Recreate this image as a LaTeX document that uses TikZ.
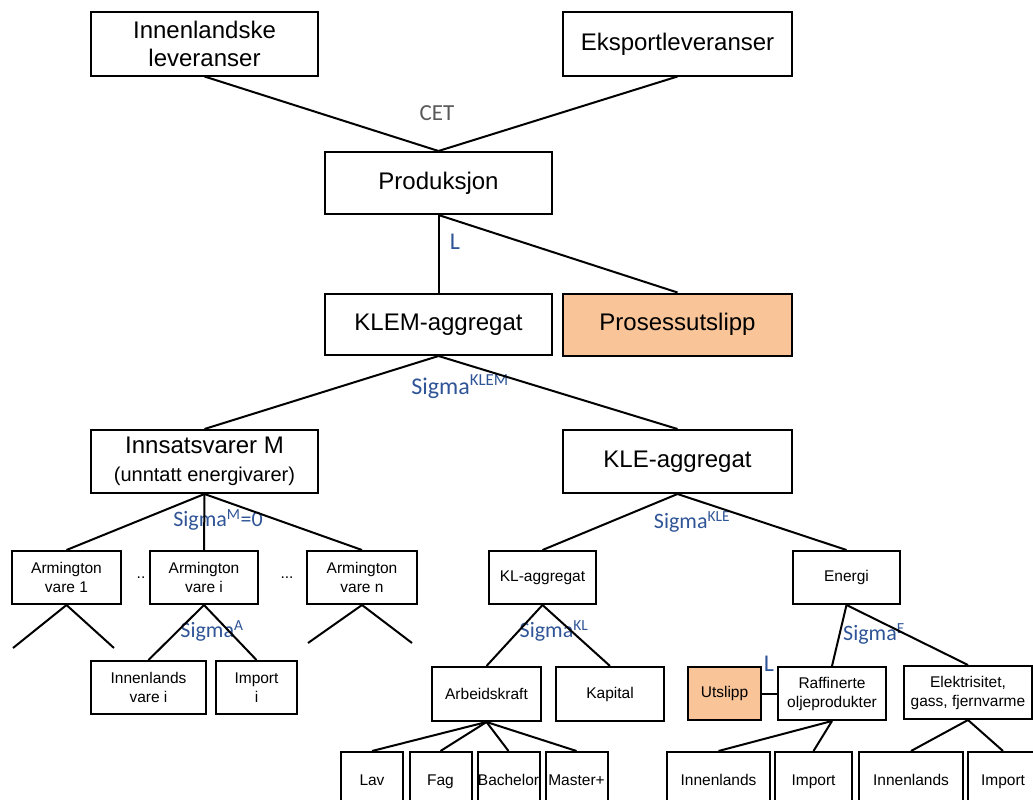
\documentclass[tikz,border=0pt]{standalone}
\usepackage{fontspec}
\setmainfont{Liberation Sans}
\newfontfamily\sigmafont{Carlito}
\usetikzlibrary{positioning}
\definecolor{sigmablue}{RGB}{47,85,151}
\definecolor{cetgray}{RGB}{89,89,89}
\definecolor{lightorange}{RGB}{248,196,152}

\begin{document}
\begin{tikzpicture}[
    x=1pt, y=-1pt,
    box/.style={
        draw=black,
        line width=2pt,
        fill=white,
        align=center,
        inner sep=2pt
    },
    bigbox/.style={
        box,
        minimum width=227pt,
        minimum height=63pt,
        font=\fontsize{24}{28}\selectfont
    },
    smallbox/.style={
        box,
        minimum width=108pt,
        minimum height=53pt,
        font=\fontsize{15.5}{19}\selectfont
    },
    leafbox/.style={
        smallbox,
        minimum height=58pt,
        text height=11.5pt,
        text depth=3.5pt
    },
    orangefill/.style={fill=lightorange},
    link/.style={line width=2pt},
    sigma/.style={
        text=sigmablue,
        inner sep=0pt,
        font=\sigmafont\fontsize{22}{24}\selectfont
    },
    letter/.style={
        sigma,
        font=\sigmafont\fontsize{24}{26}\selectfont
    }
]
\clip (0,0) rectangle (1033,800);

% top levels
\node[bigbox] (innenlandske) at (204.5,44) {Innenlandske\\leveranser};
\node[bigbox, minimum width=229pt] (eksport) at (677.5,44) {Eksportleveranser};
\node[bigbox, minimum height=62pt] (produksjon) at (438.5,183) {Produksjon};
\node[bigbox, minimum height=61pt] (klem) at (438.5,324.5) {KLEM-aggregat};
\node[bigbox, orangefill, minimum width=229pt, minimum height=62pt, right=9pt of klem] (prosess) {Prosessutslipp};
\node[bigbox] (innsats) at (204.5,461.5) {Innsatsvarer M\\{\fontsize{20}{24}\selectfont (unntatt energivarer)}};
\node[bigbox, minimum width=229pt] (kle) at (677.5,461.5) {KLE-aggregat};

% Armington side
\node[smallbox, minimum width=109pt] (arm1) at (66.5,577.5) {Armington\\vare 1};
\node[smallbox] (armi) at (204,577.5) {Armington\\vare i};
\node[smallbox, minimum width=110pt] (armn) at (362,577.5) {Armington\\vare n};
\node[font=\fontsize{15.5}{19}\selectfont] (dotsa) at (141,578) {..};
\node[font=\fontsize{15.5}{19}\selectfont] (dotsb) at (287,578) {...};
\node[smallbox, minimum width=115pt] (innvi) at (148.5,687.5) {Innenlands\\vare i};
\node[smallbox, minimum width=81pt, right=8pt of innvi] (impi) {Import\\i};
\coordinate (arm1l) at (13,648);
\coordinate (arm1r) at (114,648);
\coordinate (armnl) at (308,643);
\coordinate (armnr) at (412,643);

% KL side
\node[smallbox, minimum width=107pt] (klagg) at (542.5,577.5) {KL-aggregat};
\node[smallbox, minimum width=109pt, minimum height=54pt] (arbeid) at (486.5,694) {Arbeidskraft};
\node[smallbox, minimum height=54pt, right=13pt of arbeid] (kapital) {Kapital};
\node[leafbox, inner xsep=0pt, minimum width=62pt] (lav) at (372,781) {Lav};
\node[leafbox, inner xsep=0pt, minimum width=62pt] (fag) at (440.5,781) {Fag};
\node[leafbox, inner xsep=0pt, minimum width=62pt] (bachelor) at (508.5,781) {Bachelor};
\node[leafbox, inner xsep=0pt, minimum width=62pt] (master) at (576.5,781) {Master+};

% energy side
\node[smallbox, minimum width=107pt] (energi) at (846.5,577.5) {Energi};
\node[smallbox, orangefill, minimum width=73pt] (utslipp) at (724.5,693.5) {Utslipp};
\node[smallbox, right=15pt of utslipp] (raffinerte) {Raffinerte\\oljeprodukter};
\node[smallbox, minimum width=128pt] (elektrisitet) at (968,692.5) {Elektrisitet,\\gass, fjernvarme};
\node[leafbox, minimum width=103pt] (innraff) at (718.5,781) {Innenlands};
\node[leafbox, minimum width=77pt] (impraff) at (813.5,781) {Import};
\node[leafbox, minimum width=104pt] (innelek) at (911,781) {Innenlands};
\node[leafbox, minimum width=70pt] (impelek) at (1003,781) {Import};

% labels
\node[sigma, text=cetgray, font=\sigmafont\fontsize{23}{25}\selectfont] (cet) at (437,113) {CET};
\node[letter] (lprod) at (455,242) {L};
\node[sigma, font=\sigmafont\fontsize{24}{26}\selectfont] (sklem) at (460,387) {Sigma\textsuperscript{KLEM}};
\node[sigma] (sm) at (218,520) {Sigma\textsuperscript{M}=0};
\node[sigma] (skle) at (692,522) {Sigma\textsuperscript{KLE}};
\node[sigma] (sa) at (212,631) {Sigma\textsuperscript{A}};
\node[sigma] (skl) at (554,631) {Sigma\textsuperscript{KL}};
\node[sigma] (se) at (874,634) {Sigma\textsuperscript{E}};
\node[letter] (lutslipp) at (769,664) {L};

% connectors
\draw[link] (innenlandske.south) -- (produksjon.north);
\draw[link] (eksport.south) -- (produksjon.north);
\draw[link] (produksjon.south) -- (klem.north);
\draw[link] (produksjon.south) -- (prosess.north);
\draw[link] (klem.south) -- (innsats.north);
\draw[link] (klem.south) -- (kle.north);
\draw[link] (innsats.south) -- (arm1.north);
\draw[link] (innsats.south) -- (armi.north);
\draw[link] (innsats.south) -- (armn.north);
\draw[link] (arm1l) -- (arm1.south) -- (arm1r);
\draw[link] (armnl) -- (armn.south) -- (armnr);
\draw[link] (armi.south) -- (innvi.north);
\draw[link] (armi.south) -- (impi.north);
\draw[link] (kle.south) -- (klagg.north);
\draw[link] (kle.south) -- (energi.north);
\draw[link] (klagg.south) -- (arbeid.north);
\draw[link] (klagg.south) -- (kapital.north);
\draw[link] (arbeid.south) -- (lav.north);
\draw[link] (arbeid.south) -- (fag.north);
\draw[link] (arbeid.south) -- (bachelor.north);
\draw[link] (arbeid.south) -- (master.north);
\draw[link] (energi.south) -- (raffinerte.north);
\draw[link] (energi.south) -- (elektrisitet.north);
\draw[link] (utslipp.east) -- (raffinerte.west);
\draw[link] (raffinerte.south) -- (innraff.north);
\draw[link] (raffinerte.south) -- (impraff.north);
\draw[link] (elektrisitet.south) -- (innelek.north);
\draw[link] (elektrisitet.south) -- (impelek.north);

\end{tikzpicture}
\end{document}
